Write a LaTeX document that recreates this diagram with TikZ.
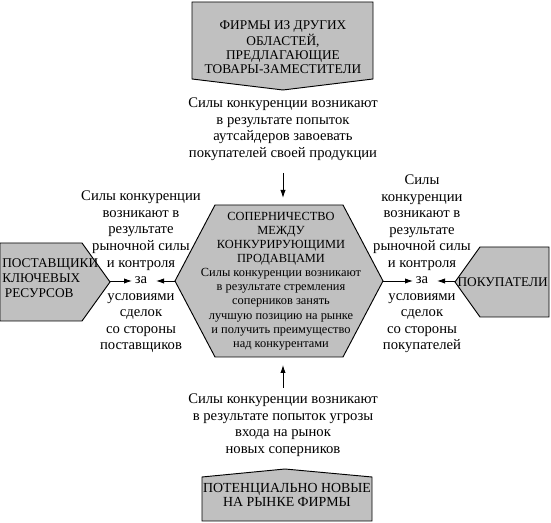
\documentclass[tikz,border=0pt]{standalone}
\usepackage{fontspec}
\setmainfont{Liberation Serif}
\usetikzlibrary{arrows.meta}
\definecolor{boxgray}{RGB}{192,192,192}

\begin{document}
\begin{tikzpicture}[
    x=0.75pt, y=-0.75pt,
    forcebox/.style={draw=black, fill=boxgray, line width=0.7pt},
    boxtext/.style={align=center, font=\fontsize{10}{10.5}\selectfont, inner sep=0pt},
    hextext/.style={align=center, font=\fontsize{9.3}{10.6}\selectfont, inner sep=0pt},
    sidetext/.style={align=center, font=\fontsize{11}{12.4}\selectfont, inner sep=0pt},
    arrow/.style={-{Latex[length=6pt,width=4pt]}, line width=0.7pt}
]
\useasboundingbox (0,0) rectangle (551,523);

% Outer forces: shaded boxes
\filldraw[forcebox] (192,2) -- (373,2) -- (373,79) -- (283,90) -- (192,79) -- cycle;
\node[boxtext] (subst) at (283,47) {ФИРМЫ ИЗ ДРУГИХ\\ОБЛАСТЕЙ,\\ПРЕДЛАГАЮЩИЕ\\ТОВАРЫ-ЗАМЕСТИТЕЛИ};

\filldraw[forcebox] (0,243) -- (82,243) -- (110,282) -- (82,321) -- (0,321) -- cycle;
\node[boxtext, align=left, anchor=west, font=\fontsize{10}{11.25}\selectfont] (suppliers) at (2,278) {ПОСТАВЩИКИ\\КЛЮЧЕВЫХ\\\hspace{2pt}РЕСУРСОВ};

\filldraw[forcebox] (549,247) -- (480,247) -- (455,282) -- (480,317) -- (549,317) -- cycle;
\node[boxtext, anchor=east] (buyers) at (548,282) {ПОКУПАТЕЛИ};

\filldraw[forcebox] (202,477) -- (285,469) -- (372,477) -- (372,521) -- (202,521) -- cycle;
\node[boxtext, font=\fontsize{10.4}{11}\selectfont] (entrants) at (287,495) {ПОТЕНЦИАЛЬНО НОВЫЕ\\НА РЫНКЕ ФИРМЫ};

% Centre: rivalry hexagon
\filldraw[forcebox] (175,281) -- (215,205) -- (343,205) -- (383,281) -- (343,357) -- (215,357) -- cycle;
\node[hextext] (rival) at (281,281) {СОПЕРНИЧЕСТВО\\МЕЖДУ\\КОНКУРИРУЮЩИМИ\\ПРОДАВЦАМИ\\Силы конкуренции возникают\\в результате стремления\\соперников занять\\лучшую позицию на рынке\\и получить преимущество\\над конкурентами};

% Explanations
\node[sidetext] (substTxt) at (283,129) {Силы конкуренции возникают\\в результате попыток\\аутсайдеров завоевать\\покупателей своей продукции};
\node[sidetext] (entryTxt) at (283,425) {Силы конкуренции возникают\\в результате попыток угрозы\\входа на рынок\\новых соперников};
\node[sidetext] (suppTxt) at (141,272) {Силы конкуренции\\возникают в\\результате\\рыночной силы\\и контроля\\за\\условиями\\сделок\\со стороны\\поставщиков};
\node[sidetext] (buyTxt) at (422,264) {Силы\\конкуренции\\возникают в\\результате\\рыночной силы\\и контроля\\за\\условиями\\сделок\\со стороны\\покупателей};

% Arrow end points
\coordinate (suppTip) at (110,281);
\coordinate (suppEnd) at (132,281);
\coordinate (rivalW) at (175,281);
\coordinate (rivalWEnd) at (156,281);
\coordinate (rivalE) at (383,281);
\coordinate (rivalEEnd) at (413,281);
\coordinate (buyTip) at (455,281);
\coordinate (buyEnd) at (437,281);
\coordinate (topStart) at (283,173);
\coordinate (topEnd) at (283,198);
\coordinate (botStart) at (283,388);
\coordinate (botEnd) at (283,365);

% Connectors
\draw[arrow] (topStart) -- (topEnd);
\draw[arrow] (botStart) -- (botEnd);
\draw[arrow] (suppTip) -- (suppEnd);
\draw[arrow] (rivalW) -- (rivalWEnd);
\draw[arrow] (rivalE) -- (rivalEEnd);
\draw[arrow] (buyTip) -- (buyEnd);

\end{tikzpicture}
\end{document}
